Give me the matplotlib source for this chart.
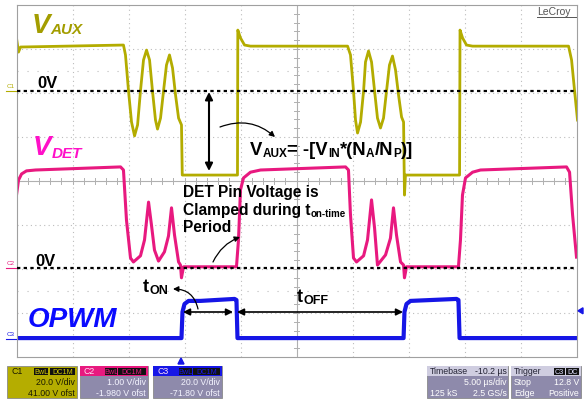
import numpy as np
import matplotlib.pyplot as plt
from matplotlib.patches import Rectangle, Polygon

plt.rcParams['font.family'] = ['Liberation Sans', 'DejaVu Sans']

W, H = 584, 400

# traces: time in us, voltage in V
t_aux = [-14.80, -14.62, -14.44, -5.25, -5.07, -4.80, -4.53, -4.26, -3.99, -3.73,
         -3.46, -3.19, -2.92, -2.66, -2.39, -2.21, -1.94, -1.67, -1.41, -1.14,
         -0.87, -0.60, -0.33, -0.07, 0.00, 4.93, 4.96, 5.20, 5.56, 6.09,
         14.76, 15.02, 15.29, 15.47, 15.65, 15.92, 16.19, 16.36, 16.63, 16.90,
         17.17, 17.43, 17.70, 17.97, 18.24, 18.50, 18.77, 19.04, 19.31, 19.58,
         19.76, 19.84, 19.93, 24.76, 24.80, 25.03, 25.38, 25.92, 34.49, 34.76,
         35.02, 35.29]
v_aux = [24.0, 17.6, 19.9, 20.8, 16.3, 0.0, -14.2, -20.5, -15.5, 0.0,
         14.0, 18.5, 14.0, 0.0, -13.3, -17.4, -12.4, 0.0, 11.7, 16.3,
         10.4, -1.9, -12.4, -15.5, -38.3, -38.3, 27.6, 24.0, 20.8, 20.3,
         20.3, 16.3, 0.0, -13.3, -19.2, -14.2, 0.0, 13.1, 18.1, 13.1,
         0.0, -12.4, -16.9, -12.4, 0.0, 11.7, 15.8, 9.5, -1.9, -11.9,
         -14.2, -47.4, -38.3, -38.3, 27.6, 24.0, 20.8, 20.3, 20.3, 14.0,
         0.4, -13.3]

t_det = [-14.80, -14.62, -14.35, -13.91, -13.10, -5.51, -5.25, -4.98, -4.62, -4.36,
         -3.73, -3.37, -3.01, -2.75, -2.48, -2.12, -1.59, -1.23, -0.96, -0.69,
         -0.33, -0.16, -0.07, 0.11, 4.84, 5.02, 5.20, 5.47, 6.09, 6.99,
         14.58, 14.84, 15.02, 15.29, 15.56, 16.19, 16.54, 16.90, 17.17, 17.43,
         18.15, 18.59, 18.86, 19.13, 19.49, 19.76, 19.84, 20.02, 24.66, 24.84,
         25.02, 25.29, 25.92, 26.63, 34.31, 34.58, 34.85, 35.20]
v_det = [1.66, 2.00, 2.14, 2.21, 2.23, 2.30, 2.23, 1.09, 0.23, 0.14,
         0.28, 0.64, 1.50, 0.98, 0.41, 0.16, 0.37, 0.73, 1.37, 0.75,
         0.14, 0.07, -0.22, 0.03, 0.03, 0.64, 1.78, 2.05, 2.18, 2.23,
         2.30, 2.23, 1.21, 0.23, 0.14, 0.28, 0.64, 1.55, 0.91, 0.07,
         0.30, 0.68, 1.37, 0.75, 0.14, 0.07, -0.22, 0.03, 0.03, 0.64,
         1.66, 2.05, 2.18, 2.23, 2.30, 2.18, 1.21, 0.25]

t_pwm = [-14.80, -0.07, 0.02, 0.20, 0.56, 1.63, 4.67, 4.84, 4.93,
         19.76, 19.84, 20.02, 20.38, 24.49, 24.66, 24.76, 35.29]
v_pwm = [0.4, 0.4, 12.3, 15.9, 17.3, 17.3, 18.2, 17.7, 0.4,
         0.4, 12.3, 15.9, 17.3, 18.2, 17.7, 0.4, 0.4]

# scope settings
ch_names = ['C1', 'C2', 'C3']
ch_vdiv = [20.0, 1.00, 20.0]
ch_ofst = [41.0, -1.98, -71.8]
ch_vdiv_txt = ['20.0 V/div', '1.00 V/div', '20.0 V/div']
ch_ofst_txt = ['41.00 V ofst', '-1.980 V ofst', '-71.80 V ofst']
ch_color = ['#b3ac00', '#e8197f', '#1616e6']
t_div = 5.0
t_center = 10.2
trig_level = 12.8


def scr(v, ch):
    return (np.array(v) + ch_ofst[ch]) / ch_vdiv[ch]


def P(x, y):
    # screen pixel -> data coords (us, div)
    return ((x - 16.5) / 56 * t_div + t_center - 5 * t_div, (181 - y) / 44)


fig = plt.figure(figsize=(W / 100, H / 100), dpi=100)
ax = fig.add_axes([16.5 / W, 43 / H, 560 / W, 352 / H])
ax.set_xlim(t_center - 5 * t_div, t_center + 5 * t_div)
ax.set_ylim(-4, 4)
ax.set_xticks([])
ax.set_yticks([])
for s in ax.spines.values():
    s.set_color('#a0a0a0')
    s.set_linewidth(0.8)

# graticule
for k in range(1, 10):
    t = t_center - 5 * t_div + k * t_div
    if k == 5:
        ax.axvline(t, color='#b0b0b0', lw=0.8, zorder=0)
    else:
        ax.axvline(t, color='#bcbcbc', lw=0.8, ls=(0, (1, 3)), zorder=0)
for d in range(-3, 4):
    if d == 0:
        ax.axhline(d, color='#b0b0b0', lw=0.8, zorder=0)
    else:
        ax.axhline(d, color='#bcbcbc', lw=0.8, ls=(0, (1, 3)), zorder=0)
for d in (2.5, -2.5):
    ax.axhline(d, color='#bcbcbc', lw=0.8, ls=(0, (1, 8)), zorder=0)
for k in range(1, 50):
    t = t_center - 5 * t_div + k * t_div / 5
    ax.plot([t, t], [-0.06, 0.06], color='#b0b0b0', lw=0.7, zorder=0)
for k in range(-19, 20):
    ax.plot([t_center - 0.2, t_center + 0.2], [k / 5, k / 5], color='#b0b0b0', lw=0.7, zorder=0)

# traces
ax.plot(t_aux, scr(v_aux, 0), color=ch_color[0], lw=2.0, solid_joinstyle='round', zorder=2)
ax.plot(t_det, scr(v_det, 1), color=ch_color[1], lw=2.2, solid_joinstyle='round', zorder=2)
ax.plot(t_pwm, scr(v_pwm, 2), color=ch_color[2], lw=3.0, solid_joinstyle='round', zorder=2)

# 0V reference lines
for ch in (0, 1):
    ax.axhline(ch_ofst[ch] / ch_vdiv[ch], color='black', lw=1.6, ls=(0, (1.5, 1.5)), zorder=4)

# arrows
ax.annotate('', xy=P(209, 92), xytext=P(209, 171),
            arrowprops=dict(arrowstyle='<|-|>', color='black', lw=1.5, mutation_scale=11,
                            shrinkA=0, shrinkB=0), zorder=5)
ax.annotate('', xy=P(275, 137), xytext=P(220, 127),
            arrowprops=dict(arrowstyle='-|>', color='black', lw=0.9, mutation_scale=8,
                            shrinkA=0, shrinkB=0, connectionstyle='arc3,rad=-0.3'), zorder=5)
ax.annotate('', xy=P(240, 237), xytext=P(213, 262),
            arrowprops=dict(arrowstyle='-|>', color='black', lw=0.9, mutation_scale=8,
                            shrinkA=0, shrinkB=0, connectionstyle='arc3,rad=-0.2'), zorder=5)
ax.annotate('', xy=P(173, 289), xytext=P(198, 309),
            arrowprops=dict(arrowstyle='-|>', color='black', lw=0.9, mutation_scale=8,
                            shrinkA=0, shrinkB=0, connectionstyle='arc3,rad=0.4'), zorder=5)
ax.annotate('', xy=P(183, 312), xytext=P(233, 312),
            arrowprops=dict(arrowstyle='<|-|>', color='black', lw=1.2, mutation_scale=10,
                            shrinkA=0, shrinkB=0), zorder=5)
ax.annotate('', xy=P(237, 312), xytext=P(403, 312),
            arrowprops=dict(arrowstyle='<|-|>', color='black', lw=1.2, mutation_scale=10,
                            shrinkA=0, shrinkB=0), zorder=5)

r = fig.canvas.get_renderer()


def ftxt(x, y, s, size=6.3, color='white', ha='left', **kw):
    return fig.text(x / W, 1 - y / H, s, fontsize=size, color=color, ha=ha, va='baseline', **kw)


def rich(x, y, parts, color='black', style='normal'):
    for s, size, dy in parts:
        t = ftxt(x, y + dy, s, size, color, fontweight='bold', fontstyle=style, zorder=6)
        x += t.get_window_extent(r).width


def rect(x0, y0, x1, y1, fc, ec='none', lw=0):
    fig.patches.append(Rectangle((x0 / W, 1 - y1 / H), (x1 - x0) / W, (y1 - y0) / H,
                                 transform=fig.transFigure, facecolor=fc, edgecolor=ec, lw=lw))


# labels
rich(32, 33, [('V', 20, 0), ('AUX', 11, 1)], color='#a39d00', style='italic')
rich(33, 155, [('V', 20, 0), ('DET', 11, 3)], color='#ff10c8', style='italic')
ftxt(28, 327, 'OPWM', 20, '#0a0aff', fontweight='bold', fontstyle='italic')
ftxt(37, 88, '0V', 12, 'black', fontweight='bold')
ftxt(35, 266, '0V', 12, 'black', fontweight='bold')
rich(250, 155, [('V', 13.3, 0), ('AUX', 8.5, 2), ('= -[V', 13.3, 0), ('IN', 8.5, 2), ('*(N', 13.3, 0),
                ('A', 8.5, 2), ('/N', 13.3, 0), ('P', 8.5, 2), (')]', 13.3, 0)])
ftxt(183, 197, 'DET Pin Voltage is', 11.2, 'black', fontweight='bold')
rich(183, 215, [('Clamped during t', 11.2, 0), ('on-time', 7, 2)])
ftxt(183, 232, 'Period', 11.2, 'black', fontweight='bold')
rich(143, 292, [('t', 13, 0), ('ON', 9, 2)])
rich(297, 302, [('t', 13, 0), ('OFF', 9, 2)])

# LeCroy logo
ftxt(537, 15, 'LeCroy', 7.5, '#555555')
fig.add_artist(plt.Line2D([537 / W, 576 / W], [1 - 17 / H, 1 - 17 / H], color='#555555', lw=0.7))

# channel ground markers on the left
for ch in range(3):
    py = 181 - ch_ofst[ch] / ch_vdiv[ch] * 44
    ftxt(7, py - 3, ch_names[ch], 4.5, ch_color[ch])
    fig.add_artist(plt.Line2D([6 / W, 16 / W], [1 - py / H, 1 - py / H], color=ch_color[ch], lw=0.8))

# trigger markers
fig.add_artist(Polygon([[178 / W, 1 - 364 / H], [184 / W, 1 - 364 / H], [181 / W, 1 - 358 / H]],
                       closed=True, transform=fig.transFigure, color=ch_color[2]))
py_trig = 181 - (trig_level + ch_ofst[2]) / ch_vdiv[2] * 44
fig.add_artist(Polygon([[578 / W, 1 - py_trig / H], [583 / W, 1 - (py_trig - 3) / H],
                        [583 / W, 1 - (py_trig + 3) / H]],
                       closed=True, transform=fig.transFigure, color=ch_color[2]))

# channel info boxes
panel = '#8e8aab'
box_x = [(7, 77), (80, 148), (153, 222)]
badge_x = [((34, 48), (50, 75)), ((105, 117), (118, 146)), ((179, 192), (193, 220))]
for ch in range(3):
    x0, x1 = box_x[ch]
    if ch == 0:
        rect(x0, 366, x1, 398, '#b5ad00', '#8a8a8a', 0.6)
        tc = '#1a1a00'
    else:
        rect(x0, 366, x1, 398, panel, '#8a8a8a', 0.6)
        rect(x0, 366, x1, 376, ch_color[ch])
        tc = '#f4f4ff'
    ftxt(x0 + 4, 374, ch_names[ch], 6.3, tc if ch == 0 else '#ffe0f4')
    for (b0, b1), s in zip(badge_x[ch], ['BwL', 'DC1M']):
        rect(b0, 368, b1, 375, '#111111')
        ftxt((b0 + b1) / 2, 374, s, 5.2, ch_color[ch] if ch else '#d8d000', ha='center')
    ftxt(x1 - 2, 385, ch_vdiv_txt[ch], 6.3, tc, ha='right')
    ftxt(x1 - 2, 396, ch_ofst_txt[ch], 6.3, tc, ha='right')

# timebase box
rect(427, 366, 508, 398, panel, '#8a8a8a', 0.6)
rect(427, 366, 508, 376, '#cfcde0')
ftxt(430, 374, 'Timebase', 6.3, '#222233')
ftxt(507, 374, '-10.2 \u00b5s', 6.3, '#222233', ha='right')
ftxt(507, 385, '5.00 \u00b5s/div', 6.3, ha='right')
ftxt(430, 396, '125 kS', 6.3)
ftxt(507, 396, '2.5 GS/s', 6.3, ha='right')

# trigger box
rect(511, 366, 581, 398, panel, '#8a8a8a', 0.6)
rect(511, 366, 581, 376, '#cfcde0')
ftxt(514, 374, 'Trigger', 6.3, '#222233')
rect(554, 368, 565, 375, '#111111')
ftxt(559.5, 374, 'C3', 5.2, '#e0e0ff', ha='center')
rect(566, 368, 579, 375, '#111111')
ftxt(572.5, 374, 'DC', 5.2, '#e0e0ff', ha='center')
ftxt(514, 385, 'Stop', 6.3)
ftxt(579, 385, '12.8 V', 6.3, ha='right')
ftxt(514, 396, 'Edge', 6.3)
ftxt(579, 396, 'Positive', 6.3, ha='right')

fig.savefig('out.png', dpi=100)
